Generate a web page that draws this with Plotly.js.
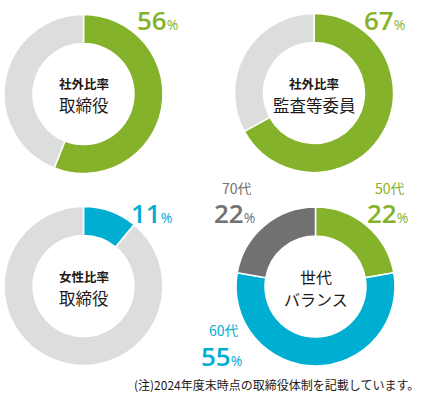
<!DOCTYPE html>
<html>
<head>
<meta charset="utf-8">
<script src="https://cdn.plot.ly/plotly-3.0.1.min.js"></script>
<style>html,body{margin:0;padding:0;background:#fff;}#chart{width:424px;height:397px;}</style>
</head>
<body>
<div id="chart"></div>
<script>
// ---- data ----
const ratioLabels = ['該当', 'その他'];
const outsideDirectors = [56, 44];      // 社外比率 取締役
const outsideAuditMembers = [67, 33];   // 社外比率 監査等委員
const femaleDirectors = [11, 89];       // 女性比率 取締役
const ageGroups = ['50代', '60代', '70代'];
const ageShares = [22, 55, 22];         // 世代バランス
const centerTitles = [
  ['社外比率', '取締役'],
  ['社外比率', '監査等委員'],
  ['女性比率', '取締役'],
  ['世代', 'バランス']
];
const footnote = '(注)2024年度末時点の取締役体制を記載しています。';

// ---- style ----
const W = 424, H = 397;
const GREEN = '#85b22b', LIGHT = '#dcdddd', BLUE = '#00aed1', DARK = '#727171';
const JP = '"Noto Sans CJK JP", "Noto Sans", sans-serif';
const NUM = '"Open Sans", "Noto Sans", sans-serif';

function dom(cx, cy, r) {
  return {x: [(cx - r) / W, (cx + r) / W], y: [1 - (cy + r) / H, 1 - (cy - r) / H]};
}
function px(x) { return x / W; }
function py(y) { return 1 - y / H; }

const base = {
  type: 'pie', sort: false, direction: 'clockwise', rotation: 0,
  hole: 0.635, textinfo: 'none', hoverinfo: 'none', showlegend: false
};
const traces = [
  Object.assign({}, base, {labels: ratioLabels, values: outsideDirectors,
    marker: {colors: [GREEN, LIGHT], line: {color: '#fff', width: 1.5}}, domain: dom(83.5, 94, 79.5)}),
  Object.assign({}, base, {labels: ratioLabels, values: outsideAuditMembers,
    marker: {colors: [GREEN, LIGHT], line: {color: '#fff', width: 1.5}}, domain: dom(314, 93, 79.5)}),
  Object.assign({}, base, {labels: ratioLabels, values: femaleDirectors,
    marker: {colors: [BLUE, LIGHT], line: {color: '#fff', width: 1.5}}, domain: dom(83.5, 286, 79.5)}),
  Object.assign({}, base, {labels: ageGroups, values: ageShares,
    marker: {colors: [GREEN, BLUE, DARK], line: {color: '#fff', width: 1.5}}, domain: dom(315.5, 286.5, 79.5)})
];

function pct(v, color, x, y) {
  return {
    xref: 'paper', yref: 'paper', x: px(x), y: py(y), xanchor: 'left', yanchor: 'middle',
    showarrow: false, height: 24, valign: 'middle', borderpad: 0,
    text: v + '<span style="font-size:14px;font-weight:400">%</span>',
    font: {family: NUM, size: 26, color: color, weight: 600}
  };
}
function label(t, color, x, y) {
  return {
    xref: 'paper', yref: 'paper', x: px(x), y: py(y), xanchor: 'left', yanchor: 'middle',
    showarrow: false, height: 15, valign: 'middle', borderpad: 0,
    text: t, font: {family: JP, size: 14, color: color}
  };
}
function center(lines, cx, cy, boldFirst, s1, s2) {
  return [
    {xref: 'paper', yref: 'paper', x: px(cx), y: py(cy - 11), xanchor: 'center', yanchor: 'middle',
     showarrow: false, height: 16, borderpad: 0, text: boldFirst ? '<b>' + lines[0] + '</b>' : lines[0],
     font: {family: JP, size: s1, color: '#231815'}},
    {xref: 'paper', yref: 'paper', x: px(cx), y: py(cy + 11), xanchor: 'center', yanchor: 'middle',
     showarrow: false, height: 18, borderpad: 0, text: lines[1], font: {family: JP, size: s2, color: '#231815'}}
  ];
}

const annotations = [
  pct(outsideDirectors[0], GREEN, 136, 20),
  pct(outsideAuditMembers[0], GREEN, 363, 20),
  pct(femaleDirectors[0], BLUE, 130, 213),
  label(ageGroups[2], DARK, 221, 188),
  pct(ageShares[2], DARK, 213, 213),
  label(ageGroups[0], GREEN, 374, 188),
  pct(ageShares[0], GREEN, 366, 213),
  label(ageGroups[1], BLUE, 208, 329.5),
  pct(ageShares[1], BLUE, 200, 356),
  ...center(centerTitles[0], 83.5, 94, true, 12.5, 16.5),
  ...center(centerTitles[1], 314, 94, true, 12.5, 16.5),
  ...center(centerTitles[2], 83.5, 287, true, 12.5, 16.5),
  ...center(centerTitles[3], 315.5, 288, false, 16, 16)
  ,{xref: 'paper', yref: 'paper', x: px(421), y: py(384), xanchor: 'right', yanchor: 'middle',
   showarrow: false, text: footnote, font: {family: JP, size: 12, color: '#231815'}}
];

Plotly.newPlot('chart', traces, {
  width: W, height: H, margin: {l: 0, r: 0, t: 0, b: 0},
  paper_bgcolor: '#fff', annotations: annotations
}, {displayModeBar: false, staticPlot: true});
</script>
</body>
</html>
